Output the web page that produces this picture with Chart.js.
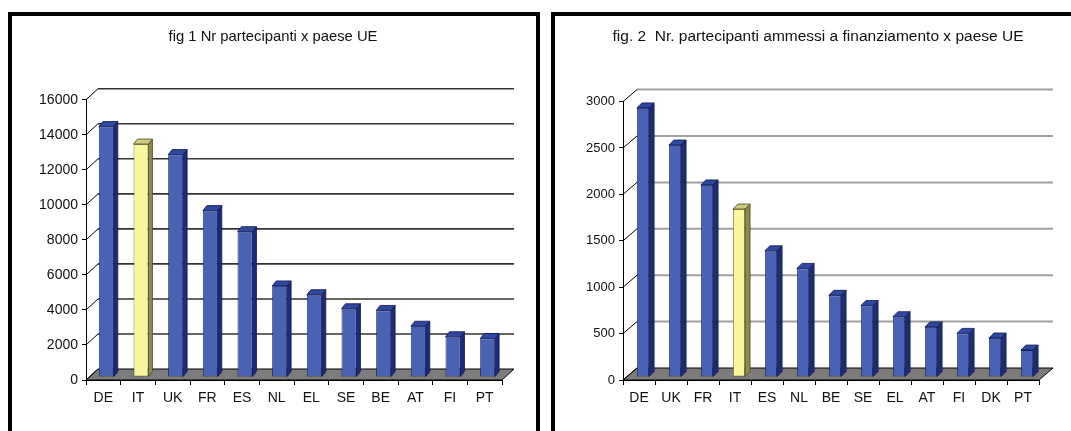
<!DOCTYPE html>
<html><head><meta charset="utf-8">
<script src="https://cdn.jsdelivr.net/npm/chart.js@4.4.0/dist/chart.umd.min.js"></script>
<style>
html,body{margin:0;padding:0;background:#fff;overflow:hidden;width:1071px;height:431px;}
.box{position:absolute;border:4px solid #000;border-bottom:none;overflow:hidden;background:#fff;}
#b1{left:8px;top:12px;width:524px;height:420px;}
#b2{left:551px;top:12px;width:530px;height:420px;}
canvas{position:absolute;left:0;top:0;}
</style></head><body>
<div class="box" id="b1"><canvas id="c1" width="524" height="415"></canvas></div>
<div class="box" id="b2"><canvas id="c2" width="526" height="415"></canvas></div>
<script>
// ---- data ----
const title1 = 'fig 1 Nr partecipanti x paese UE';
const countries1 = ['DE','IT','UK','FR','ES','NL','EL','SE','BE','AT','FI','PT'];
const participants1 = [14300,13300,12700,9500,8300,5200,4700,3900,3800,2900,2300,2200];
const yMax1 = 16000, yStep1 = 2000;

const title2 = 'fig. 2  Nr. partecipanti ammessi a finanziamento x paese UE';
const countries2 = ['DE','UK','FR','IT','ES','NL','BE','SE','EL','AT','FI','DK','PT'];
const funded2 = [2900,2500,2070,1810,1360,1170,880,770,650,540,470,420,290];
const yMax2 = 3000, yStep2 = 500;

const highlight = 'IT';

Chart.defaults.font.family = '"Liberation Sans", Arial, sans-serif';
Chart.defaults.color = '#111';

const BLUE = {front:'#4863B3', side:'#1E2C78', top:'#2E47A0', line:'#0E1850'};
const YEL  = {front:'#FAF69E', side:'#8C8A4C', top:'#CFCB7C', line:'#4A4826'};

function threeD(o){
  return {
    id:'threeD',
    afterLayout(chart){
      const tb = chart.titleBlock;
      if (tb) { const w = tb.right - tb.left; tb.left = o.titleCenter - w/2; tb.right = o.titleCenter + w/2; }
    },
    beforeDatasetsDraw(chart){
      const ctx = chart.ctx, a = chart.chartArea, y = chart.scales.y;
      ctx.save();
      // floor
      ctx.beginPath();
      ctx.moveTo(a.left, a.bottom);
      ctx.lineTo(a.right, a.bottom);
      ctx.lineTo(a.right + o.dx, a.bottom + o.dy);
      ctx.lineTo(a.left + o.dx, a.bottom + o.dy);
      ctx.closePath();
      ctx.fillStyle = '#7c7c7c';
      ctx.fill();
      ctx.strokeStyle = '#000'; ctx.lineWidth = 1; ctx.stroke();
      // back-wall gridlines and diagonals
      y.ticks.forEach(t => {
        const py = y.getPixelForValue(t.value);
        if (t.value !== 0) {
          ctx.beginPath();
          ctx.moveTo(a.left + o.dx, py + o.dy);
          ctx.lineTo(a.right + o.dx, py + o.dy);
          ctx.strokeStyle = o.gridColor; ctx.lineWidth = o.gridWidth; ctx.stroke();
        }
        ctx.beginPath();
        ctx.moveTo(a.left, py);
        ctx.lineTo(a.left + o.dx, py + o.dy);
        ctx.strokeStyle = '#000'; ctx.lineWidth = 1; ctx.stroke();
      });
      ctx.restore();
      ctx.save();
      ctx.translate(o.sx, o.sy);
    },
    afterDatasetsDraw(chart){
      const ctx = chart.ctx;
      const meta = chart.getDatasetMeta(0);
      const labels = chart.data.labels;
      meta.data.forEach((bar, i) => {
        const p = bar.getProps(['x','y','base','width'], true);
        const c = labels[i] === highlight ? YEL : BLUE;
        const l = p.x - p.width/2, r = p.x + p.width/2, t = p.y, b = p.base;
        ctx.lineWidth = 0.8; ctx.strokeStyle = c.line;
        // side
        ctx.beginPath();
        ctx.moveTo(r, t); ctx.lineTo(r + o.bx, t + o.by); ctx.lineTo(r + o.bx, b + o.by); ctx.lineTo(r, b); ctx.closePath();
        ctx.fillStyle = c.side; ctx.fill(); ctx.stroke();
        // top
        ctx.beginPath();
        ctx.moveTo(l, t); ctx.lineTo(l + o.bx, t + o.by); ctx.lineTo(r + o.bx, t + o.by); ctx.lineTo(r, t); ctx.closePath();
        ctx.fillStyle = c.top; ctx.fill(); ctx.stroke();
      });
      ctx.restore();
    }
  };
}

function makeChart(id, title, labels, values, yMax, yStep, g){
  const colors = labels.map(c => c === highlight ? YEL.front : BLUE.front);
  const borders = labels.map(c => c === highlight ? YEL.line : BLUE.line);
  return new Chart(document.getElementById(id), {
    type:'bar',
    data:{ labels, datasets:[{ data: values, backgroundColor: colors, borderColor: borders,
      borderWidth: 0.8, borderSkipped: false, barPercentage: g.barPct, categoryPercentage: 1, clip: false }] },
    options:{
      responsive:false, animation:false, devicePixelRatio:1,
      layout:{ padding:{ left:0, right:g.padRight, top:0, bottom:0 } },
      plugins:{
        legend:{display:false}, tooltip:{enabled:false},
        title:{ display:true, text:title, color:'#111',
          font:{ size:g.titleSize, weight:'normal' }, padding:{ top:g.titleTop, bottom:g.titleBottom } }
      },
      scales:{
        x:{
          grid:{ display:true, drawOnChartArea:false, drawTicks:true, tickLength:5, color:'#000', offset:true },
          border:{ display:true, color:'#000', width:1 },
          ticks:{ font:{ size:14 }, color:'#111', padding:5, maxRotation:0, autoSkip:false },
          afterFit(s){ s.height = 51; }
        },
        y:{
          min:0, max:yMax,
          grid:{ display:true, drawOnChartArea:false, drawTicks:true, tickLength:4, color:'#000' },
          border:{ display:true, color:'#000', width:1 },
          ticks:{ stepSize:yStep, font:{ size:g.ySize }, color:'#111', padding:4,
            callback:(v) => String(v) },
          afterFit(s){ s.width = g.yWidth; }
        }
      }
    },
    plugins:[ threeD(g) ]
  });
}

makeChart('c1', title1, countries1, participants1, yMax1, yStep1, {
  padRight:34, yWidth:74, titleCenter:261, titleSize:14.8, titleTop:12.5, titleBottom:53.5, ySize:14,
  barPct:0.43, dx:12, dy:-11, sx:3, sy:-3, bx:4, by:-5, gridColor:'#333', gridWidth:1.6
});
makeChart('c2', title2, countries2, funded2, yMax2, yStep2, {
  padRight:42, yWidth:68, titleCenter:263, titleSize:15.5, titleTop:11, titleBottom:56, ySize:13,
  barPct:0.38, dx:14, dy:-12, sx:4, sy:-3, bx:5, by:-5, gridColor:'#a0a0a0', gridWidth:2
});
</script>
</body></html>
